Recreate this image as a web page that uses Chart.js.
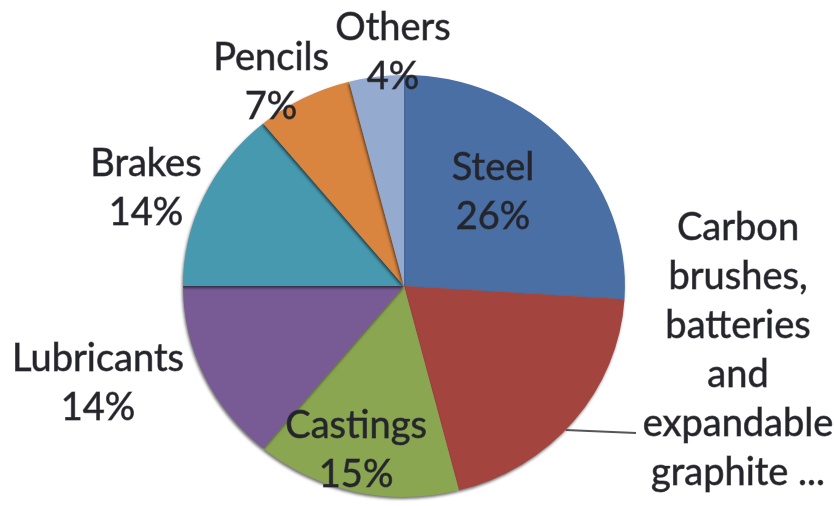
<!DOCTYPE html>
<html>
<head>
<meta charset="utf-8">
<script src="https://cdn.jsdelivr.net/npm/chart.js@4/dist/chart.umd.min.js"></script>
<style>
  html, body { margin: 0; padding: 0; background: #fff; }
  #wrap { width: 834px; height: 506px; }
</style>
</head>
<body>
<div id="wrap"><canvas id="pie" width="834" height="506"></canvas></div>
<script>
// graphite uses, share in percent
const categories = [
  ['Steel'],
  ['Carbon', 'brushes,', 'batteries', 'and', 'expandable', 'graphite ...'],
  ['Castings'],
  ['Lubricants'],
  ['Brakes'],
  ['Pencils'],
  ['Others']
];
const shares = [26, 20, 15, 14, 14, 7, 4];
const sliceColors = ['#4a6fa5', '#a4443f', '#8ba651', '#785b95', '#4799af', '#d9853f', '#94aacf'];

// where each label block sits, in multiples of the radius from the centre
const labelOffsets = [
  [0.422, -0.445],
  [1.583, 0.306],
  [-0.227, 0.777],
  [-1.45, 0.46],
  [-1.223, -0.464],
  [-0.63, -0.967],
  [-0.052, -1.109]
];
const xStretch = 1.047;

const stretchPlugin = {
  id: 'stretch',
  beforeDatasetsDraw(chart) {
    const arc = chart.getDatasetMeta(0).data[0];
    const ctx = chart.ctx;
    ctx.save();
    ctx.translate(arc.x, arc.y);
    ctx.scale(xStretch, 1);
    ctx.translate(-arc.x, -arc.y);
    ctx.shadowColor = 'rgba(0,0,0,0.55)';
    ctx.shadowBlur = 3;
    ctx.shadowOffsetX = -1;
    ctx.shadowOffsetY = 2;
  },
  afterDatasetsDraw(chart) {
    chart.ctx.restore();
  }
};

const labelPlugin = {
  id: 'sliceLabels',
  afterDraw(chart) {
    const ctx = chart.ctx;
    const arcs = chart.getDatasetMeta(0).data;
    const cx = arcs[0].x, cy = arcs[0].y, r = arcs[0].outerRadius;
    const total = shares.reduce((a, b) => a + b, 0);
    const lineH = 49;
    ctx.save();
    ctx.font = '38px Lato';
    ctx.fillStyle = '#25252c';
    ctx.strokeStyle = 'rgba(37,37,44,0.6)';
    ctx.lineWidth = 0.9;
    ctx.textAlign = 'center';
    ctx.textBaseline = 'middle';
    categories.forEach((lines, i) => {
      const all = i === 1 ? lines : lines.concat([Math.round(shares[i] / total * 100) + '%']);
      const x = cx + labelOffsets[i][0] * r;
      const y0 = cy + labelOffsets[i][1] * r - (all.length - 1) * lineH / 2;
      all.forEach((t, k) => {
        ctx.fillText(t, x, y0 + k * lineH);
        ctx.strokeText(t, x, y0 + k * lineH);
      });
    });
    // leader line for the carbon slice
    const a = 133 * Math.PI / 180;
    const sx = cx + Math.sin(a) * r * xStretch, sy = cy - Math.cos(a) * r;
    ctx.strokeStyle = '#555';
    ctx.lineWidth = 2;
    ctx.beginPath();
    ctx.moveTo(sx, sy);
    ctx.lineTo(636, sy + 3);
    ctx.stroke();
    ctx.restore();
  }
};

new Chart(document.getElementById('pie'), {
  type: 'pie',
  data: {
    labels: categories.map(l => l.join(' ')),
    datasets: [{
      data: shares,
      backgroundColor: sliceColors,
      borderWidth: 0
    }]
  },
  options: {
    responsive: false,
    animation: false,
    layout: { padding: { left: 193, right: 219, top: 75, bottom: 9 } },
    plugins: {
      legend: { display: false },
      tooltip: { enabled: false }
    }
  },
  plugins: [stretchPlugin, labelPlugin]
});
</script>
</body>
</html>
